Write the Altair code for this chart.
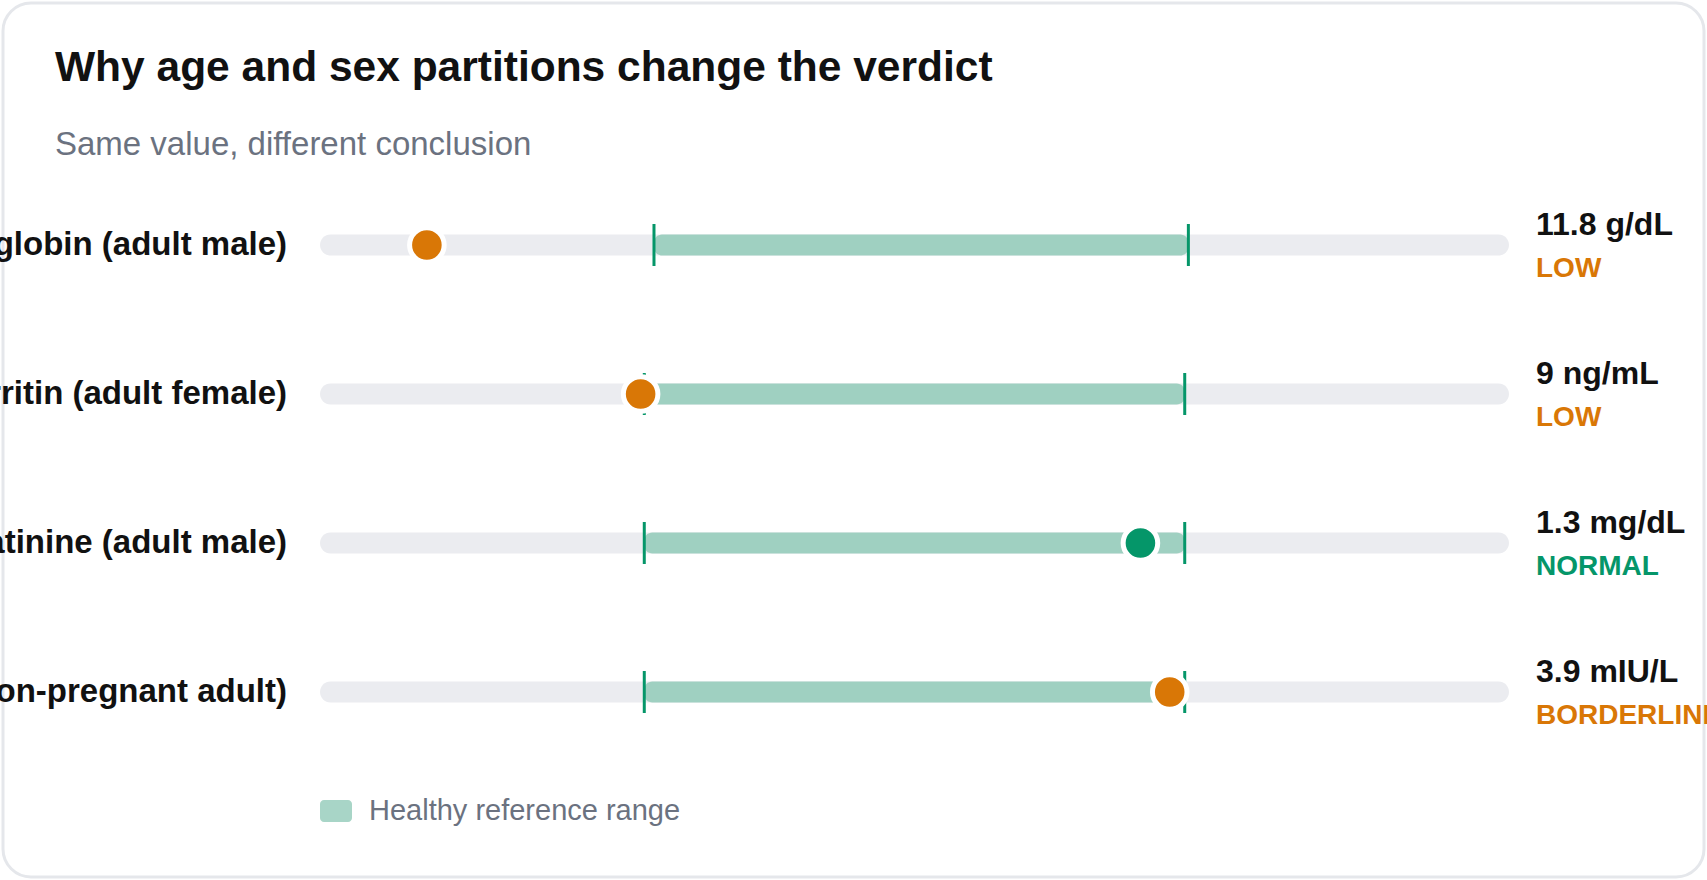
import altair as alt
import pandas as pd

# ---- data ----
labels = ["Hemoglobin (adult male)", "Ferritin (adult female)",
          "Creatinine (adult male)", "TSH (non-pregnant adult)"]
values = [11.8, 9, 1.3, 3.9]
units = ["g/dL", "ng/mL", "mg/dL", "mIU/L"]
ref_low = [13.5, 11, 0.74, 0.4]
ref_high = [17.5, 307, 1.35, 4.0]
status = ["LOW", "LOW", "NORMAL", "BORDERLINE"]
value_text = ["11.8 g/dL", "9 ng/mL", "1.3 mg/dL", "3.9 mIU/L"]
legend_name = ["Healthy reference range"] * 4

df = pd.DataFrame({
    "label": labels,
    "value": values,
    "unit": units,
    "low": ref_low,
    "high": ref_high,
    "status": status,
    "vtext": value_text,
    "legend": legend_name,
})

FONT = "Liberation Sans"
ORANGE = "#d97706"
GREEN = "#059669"
TRACK = "#ebecf0"
RANGE = "#9fd0c1"

base = alt.Chart(df).transform_calculate(
    span="datum.high - datum.low",
).transform_calculate(
    dmin="min(datum.low - 0.6*datum.span, datum.value - 0.2*datum.span)",
    dmax="max(datum.high + 0.6*datum.span, datum.value + 0.2*datum.span)",
).transform_calculate(
    t_lo="(datum.low - datum.dmin)/(datum.dmax - datum.dmin)",
    t_hi="(datum.high - datum.dmin)/(datum.dmax - datum.dmin)",
    t_val="(datum.value - datum.dmin)/(datum.dmax - datum.dmin)",
    t0="0",
    t1="1",
)

xs = alt.Scale(domain=[0, 1], range=[317, 1506], zero=False, nice=False)
ys = alt.Scale(type="point", domain=labels, range=[242, 689], padding=0)
Y = alt.Y("label:N", scale=ys, axis=None)

track = base.mark_bar(height=21, cornerRadius=10.5, color=TRACK).encode(
    x=alt.X("t0:Q", scale=xs, axis=None),
    x2="t1:Q",
    y=Y,
)

rng = base.mark_bar(height=21, cornerRadius=8).encode(
    x=alt.X("t_lo:Q", scale=xs, axis=None),
    x2="t_hi:Q",
    y=Y,
    color=alt.Color(
        "legend:N",
        scale=alt.Scale(domain=["Healthy reference range"], range=[RANGE]),
        legend=alt.Legend(
            title=None,
            orient="none",
            legendX=317,
            legendY=792,
            padding=0,
            symbolType="M-0.75,-0.6875H0.75A0.25,0.25 0 0 1 1,-0.4375V0.4375A0.25,0.25 0 0 1 0.75,0.6875H-0.75A0.25,0.25 0 0 1 -1,0.4375V-0.4375A0.25,0.25 0 0 1 -0.75,-0.6875Z",
            symbolSize=1024,
            symbolStrokeWidth=0,
            symbolOpacity=0.9,
            labelFont=FONT,
            labelFontSize=29,
            labelColor="#6b7280",
            labelOffset=17,
            labelLimit=1000,
        ),
    ),
)

ticks_lo = base.mark_tick(orient="vertical", size=42, thickness=3, color=GREEN, opacity=1).encode(
    x=alt.X("t_lo:Q", scale=xs, axis=None),
    y=Y,
)
ticks_hi = base.mark_tick(orient="vertical", size=42, thickness=3, color=GREEN, opacity=1).encode(
    x=alt.X("t_hi:Q", scale=xs, axis=None),
    y=Y,
)

status_scale = alt.Scale(domain=["LOW", "NORMAL", "BORDERLINE"], range=[ORANGE, GREEN, ORANGE])

dots = base.mark_circle(size=1195, stroke="white", strokeWidth=5, opacity=1).encode(
    x=alt.X("t_val:Q", scale=xs, axis=None),
    y=Y,
    fill=alt.Fill("status:N", scale=status_scale, legend=None),
)

row_labels = base.mark_text(
    align="right", baseline="middle", dx=-33, font=FONT, fontSize=33,
    fontWeight="bold", color="#111111",
).encode(
    x=alt.datum(0, scale=xs),
    y=Y,
    text="label:N",
)

val_labels = base.mark_text(
    align="left", baseline="alphabetic", dx=27, dy=-10, font=FONT, fontSize=32,
    fontWeight="bold", color="#111111",
).encode(
    x=alt.datum(1, scale=xs),
    y=Y,
    text="vtext:N",
)

status_labels = base.mark_text(
    align="left", baseline="alphabetic", dx=27, dy=32, font=FONT, fontSize=28,
    fontWeight="bold",
).encode(
    x=alt.datum(1, scale=xs),
    y=Y,
    text="status:N",
    fill=alt.Fill("status:N", scale=status_scale, legend=None),
)

chart = alt.layer(
    track, rng, ticks_lo, ticks_hi, dots, row_labels, val_labels, status_labels
).properties(
    width=1701,
    height=874,
    autosize=alt.AutoSizeParams(type="none"),
    padding={"left": 3, "top": 3, "right": 3, "bottom": 3},
    background="white",
    title=alt.TitleParams(
        text="Why age and sex partitions change the verdict",
        subtitle="Same value, different conclusion",
        anchor="start",
        frame="group",
        font=FONT,
        fontSize=42.5,
        fontWeight="bold",
        color="#111111",
        subtitleFont=FONT,
        subtitleFontSize=33,
        subtitleFontWeight="normal",
        subtitleColor="#6b7280",
        subtitlePadding=40,
        offset=-159,
        dx=52,
    ),
).configure_view(
    stroke="#e5e7eb",
    strokeWidth=3,
    cornerRadius=28,
    fill="white",
)

chart.save("out.html", embed_options={"renderer": "svg", "actions": False})
